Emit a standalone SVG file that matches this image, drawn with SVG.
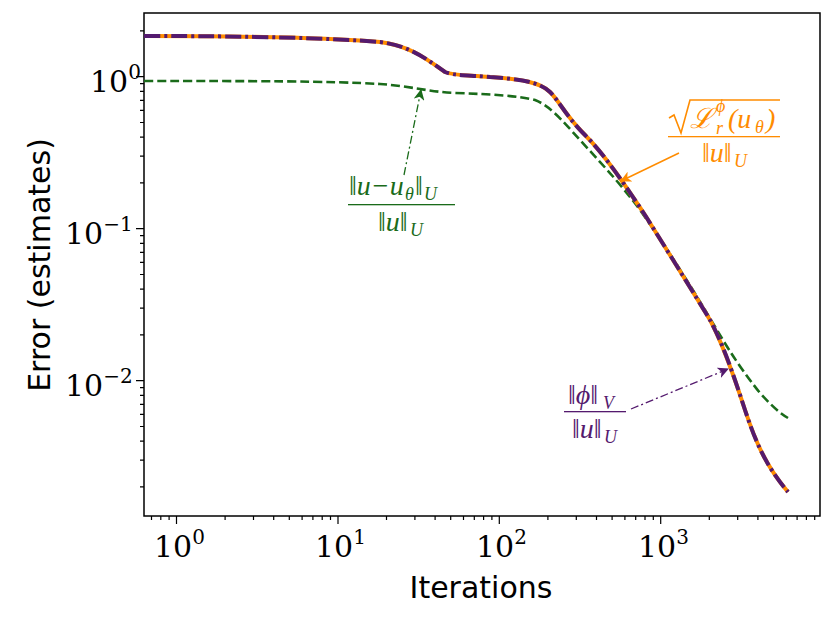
<svg xmlns="http://www.w3.org/2000/svg" width="831" height="619" viewBox="0 0 831 619">
<style>
.tk{stroke:#000;stroke-width:1.2}
.tl{font-family:"DejaVu Serif","Liberation Serif",serif;font-size:30px}
.sup{font-size:20px}
.ax{font-family:"DejaVu Sans","Liberation Sans",sans-serif;font-size:30px}
.m{font-family:"Liberation Serif",serif;font-size:28px;font-style:italic}
.s{font-family:"Liberation Serif",serif;font-size:18px;font-style:italic}
</style>
<defs>
<marker id="ag" markerWidth="11" markerHeight="11" refX="10" refY="5.5" orient="auto" markerUnits="userSpaceOnUse" viewBox="0 0 11 11"><path d="M0,0L11,5.5L0,11L3,5.5z" fill="#1a6b1a"/></marker>
<marker id="ao" markerWidth="11" markerHeight="11" refX="10" refY="5.5" orient="auto" markerUnits="userSpaceOnUse" viewBox="0 0 11 11"><path d="M0,0L11,5.5L0,11L3,5.5z" fill="#ff8c00"/></marker>
<marker id="ap" markerWidth="11" markerHeight="11" refX="10" refY="5.5" orient="auto" markerUnits="userSpaceOnUse" viewBox="0 0 11 11"><path d="M0,0L11,5.5L0,11L3,5.5z" fill="#541a6e"/></marker>
</defs>
<rect width="831" height="619" fill="#fff"/>
<g id="axes">
<rect x="144" y="13" width="676" height="503" fill="none" stroke="#000" stroke-width="1.5"/>
<path class="tk" d="M176.5,516v8M338,516v8M499.3,516v8M660.7,516v8M144,76.7h-8M144,228.7h-8M144,380.7h-8"/>
<path class="tk" d="M151.5,516v4M160.8,516v4M169.1,516v4M225.1,516v4M253.5,516v4M273.7,516v4M289.3,516v4M302.1,516v4M312.9,516v4M322.2,516v4M330.5,516v4M386.5,516v4M414.9,516v4M435.1,516v4M450.7,516v4M463.5,516v4M474.3,516v4M483.6,516v4M491.9,516v4M547.9,516v4M576.3,516v4M596.5,516v4M612.1,516v4M624.9,516v4M635.7,516v4M645,516v4M653.3,516v4M709.3,516v4M737.7,516v4M757.9,516v4M773.5,516v4M786.3,516v4M797.1,516v4M806.4,516v4M814.7,516v4"/>
<path class="tk" d="M144,30.9h-4M144,182.9h-4M144,156.2h-4M144,137.2h-4M144,122.5h-4M144,110.4h-4M144,100.3h-4M144,91.4h-4M144,83.7h-4M144,334.9h-4M144,308.2h-4M144,289.2h-4M144,274.5h-4M144,262.4h-4M144,252.3h-4M144,243.4h-4M144,235.7h-4M144,486.9h-4M144,460.2h-4M144,441.2h-4M144,426.5h-4M144,414.4h-4M144,404.3h-4M144,395.4h-4M144,387.7h-4"/>
<text class="tl" x="154" y="557">10<tspan class="sup" dy="-13">0</tspan></text>
<text class="tl" x="315" y="557">10<tspan class="sup" dy="-13">1</tspan></text>
<text class="tl" x="476" y="557">10<tspan class="sup" dy="-13">2</tspan></text>
<text class="tl" x="638" y="557">10<tspan class="sup" dy="-13">3</tspan></text>
<text class="tl" x="90" y="92">10<tspan class="sup" dy="-13">0</tspan></text>
<text class="tl" x="65" y="244">10<tspan class="sup" dy="-13">−1</tspan></text>
<text class="tl" x="65" y="396">10<tspan class="sup" dy="-13">−2</tspan></text>
<text class="ax" x="481" y="598" text-anchor="middle">Iterations</text>
<text class="ax" x="50" y="265" text-anchor="middle" transform="rotate(-90 50 265)">Error (estimates)</text>
</g>
<g id="connectors" fill="none">
<path d="M144,81 C250,81 330,81 380,84 C410,86 430,92 455,93 C490,94 520,96 535,100 C550,106 560,118 580,140 C600,162 620,183 640,210 C665,245 690,285 705,310 C720,335 735,362 760,393 C770,404 778,412 788,418" stroke="#1a6b1a" stroke-width="2.6" stroke-dasharray="9 4"/>
<path d="M144,36 C250,36 330,38 380,42 C410,46 425,58 445,72 C455,76 470,75 490,77 C520,79 540,82 550,92 C560,102 565,115 585,135 C605,155 625,185 645,215 C670,255 695,295 710,320 C722,342 732,370 745,410 C755,440 765,465 788,492" stroke="#ff8c00" stroke-width="4"/>
<path d="M144,36 C250,36 330,38 380,42 C410,46 425,58 445,72 C455,76 470,75 490,77 C520,79 540,82 550,92 C560,102 565,115 585,135 C605,155 625,185 645,215 C670,255 695,295 710,320 C722,342 732,370 745,410 C755,440 765,465 788,492" stroke="#541a6e" stroke-width="4" stroke-dasharray="16 4 3 4"/>
<path d="M404,175 L421,90" stroke="#1a6b1a" stroke-width="1.3" stroke-dasharray="8 3 2 3" marker-end="url(#ag)"/>
<path d="M679,153 L621,181" stroke="#ff8c00" stroke-width="1.5" marker-end="url(#ao)"/>
<path d="M631,409 L728,369" stroke="#541a6e" stroke-width="1.3" stroke-dasharray="8 3 2 3" marker-end="url(#ap)"/>
</g>
<g id="label-green" fill="#1a6b1a">
<text class="m" x="349" y="195">‖u−u</text>
<text class="s" x="405" y="200">θ</text>
<text class="m" x="415" y="195">‖</text>
<text class="s" x="424" y="200">U</text>
<rect x="348" y="204" width="107" height="1.3"/>
<text class="m" x="378" y="231">‖u‖</text>
<text class="s" x="410" y="236">U</text>
</g>
<g id="label-orange" fill="#ff8c00">
<path d="M669,118 l5,-3 l7,18 l9,-33 h90" fill="none" stroke="#ff8c00" stroke-width="1.6"/>
<text class="m" x="690" y="128">ℒ</text>
<text class="s" x="716" y="112">ϕ</text>
<text class="s" x="716" y="134">r</text>
<text class="m" x="728" y="128">(u</text>
<text class="s" x="755" y="133">θ</text>
<text class="m" x="766" y="128">)</text>
<rect x="668" y="136" width="112" height="1.3"/>
<text class="m" x="702" y="162">‖u‖</text>
<text class="s" x="734" y="167">U</text>
</g>
<g id="label-purple" fill="#541a6e">
<text class="m" x="568" y="404">‖ϕ‖</text>
<text class="s" x="603" y="409">V</text>
<rect x="564" y="411" width="62" height="1.3"/>
<text class="m" x="572" y="438">‖u‖</text>
<text class="s" x="604" y="443">U</text>
</g>
</svg>
